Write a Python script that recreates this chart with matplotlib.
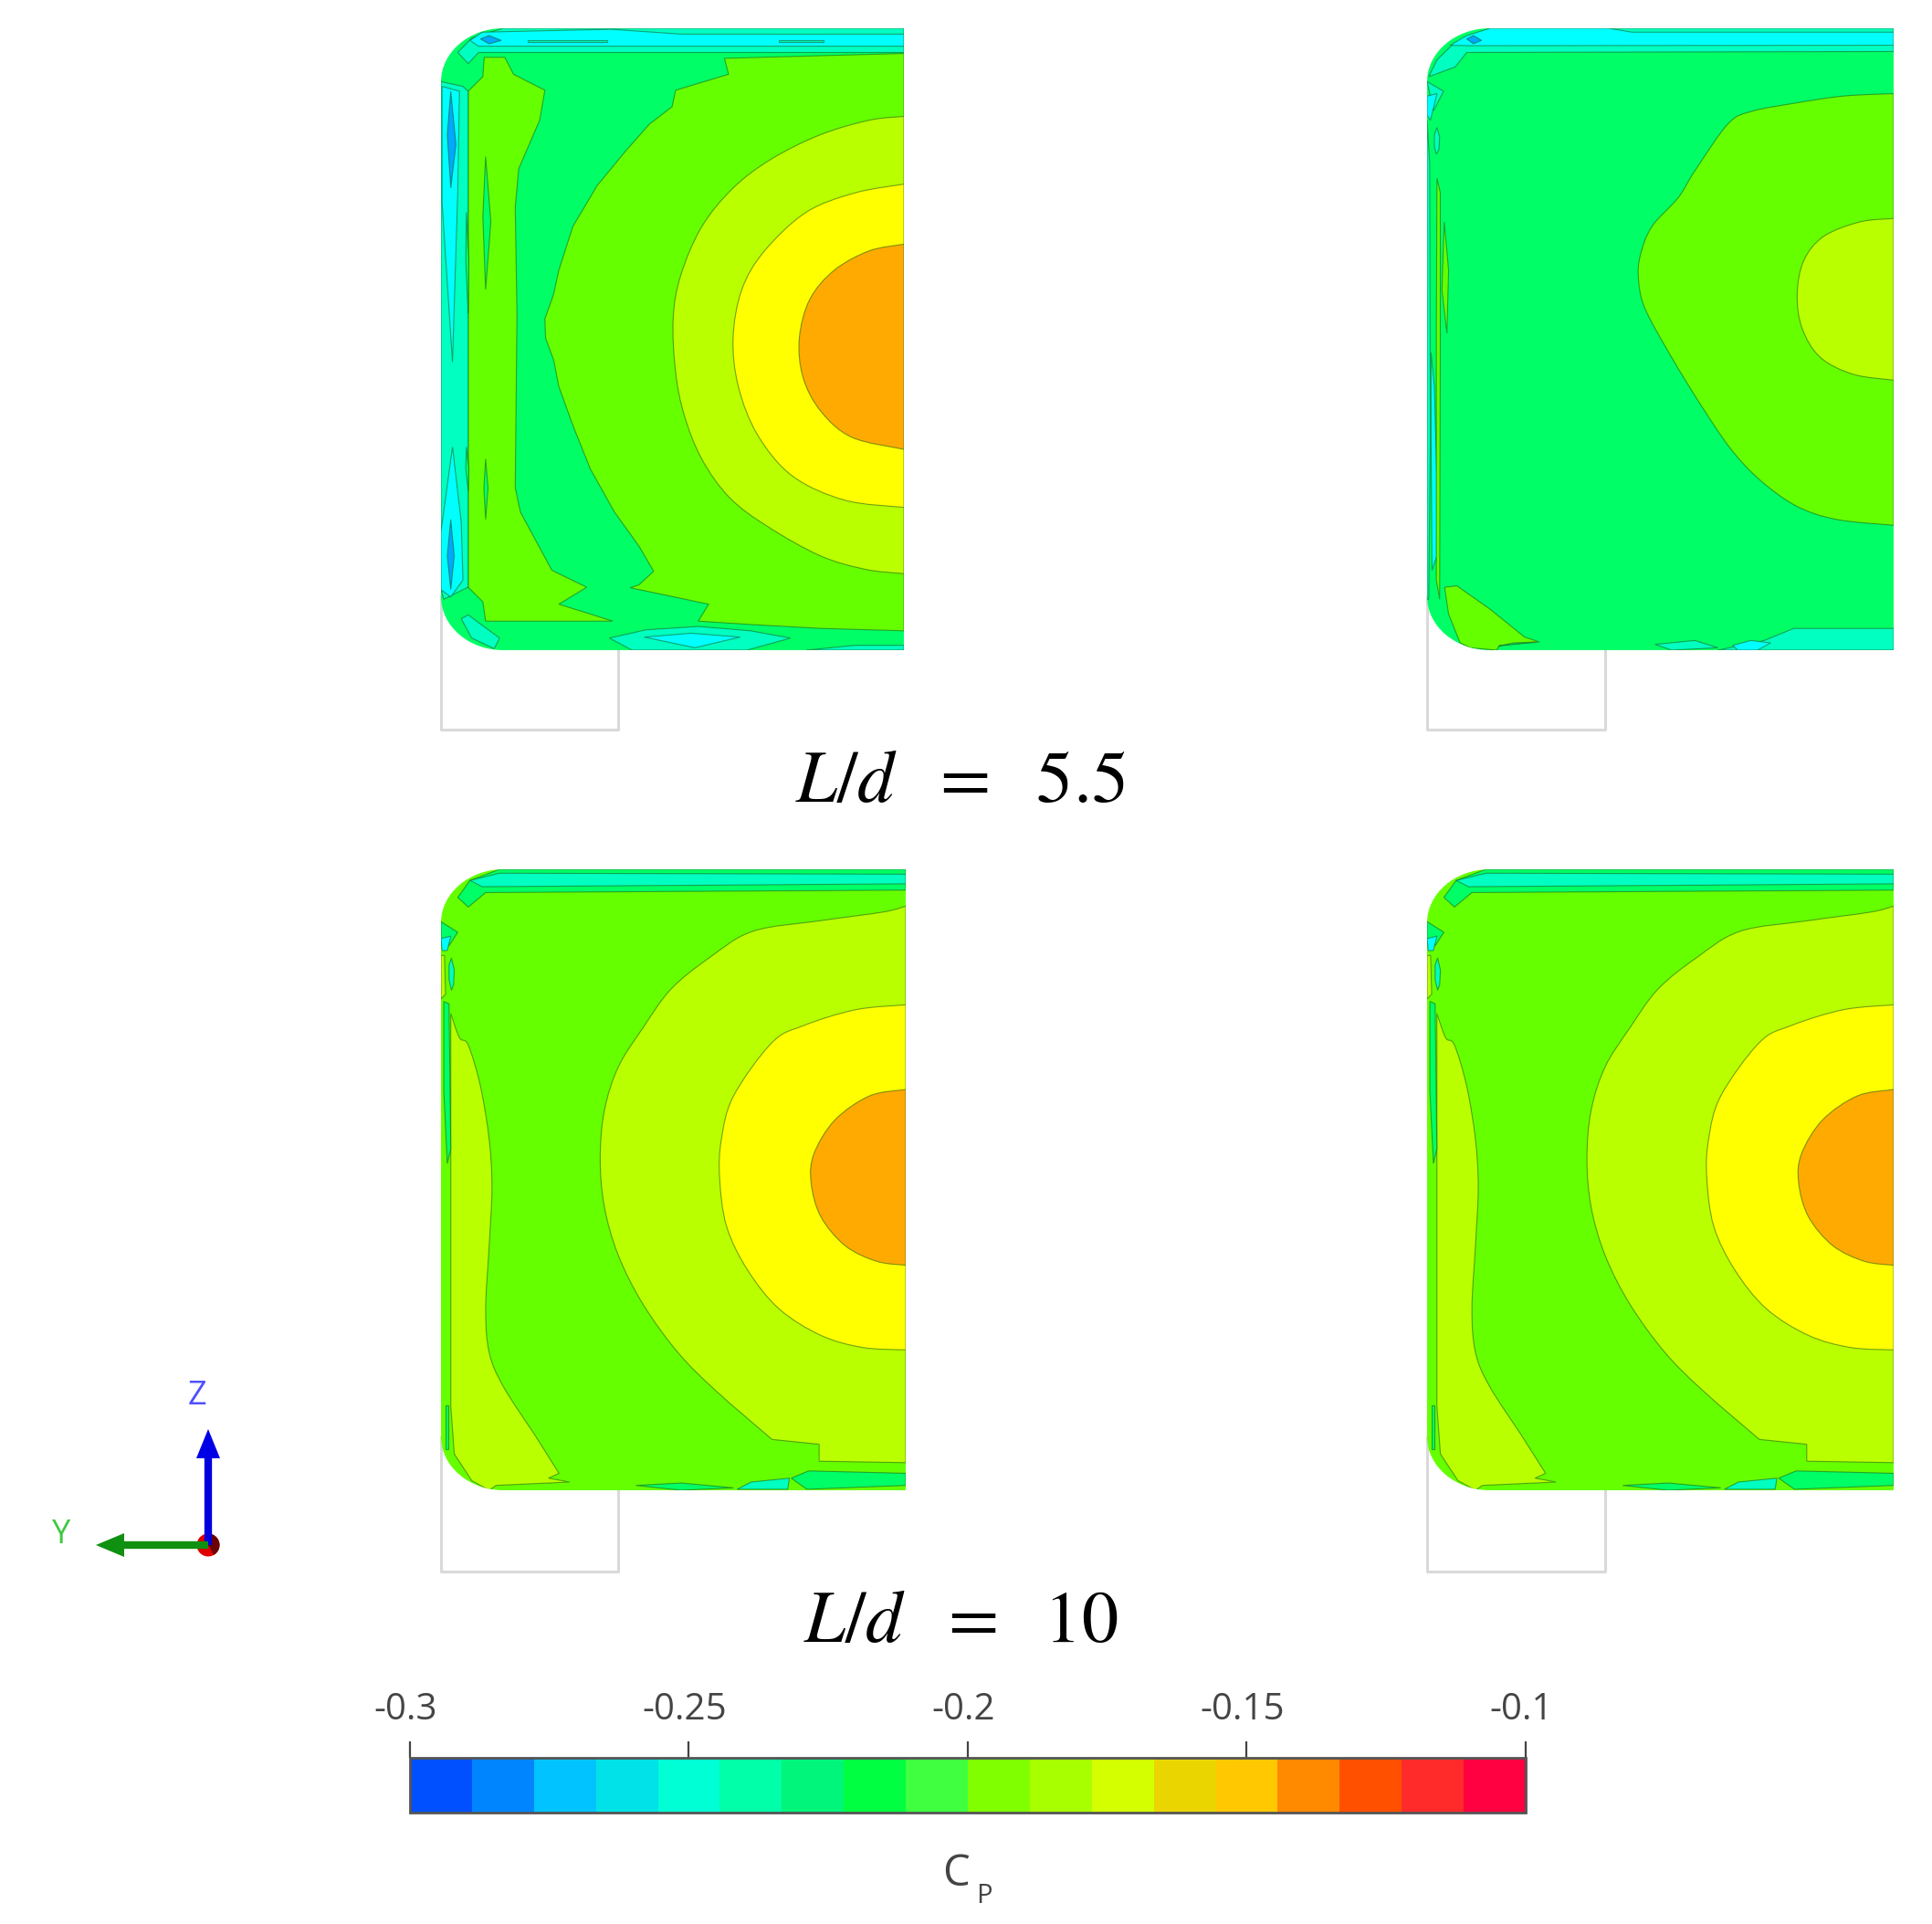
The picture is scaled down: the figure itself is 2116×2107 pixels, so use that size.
#!/usr/bin/env python3
# -*- coding: utf-8 -*-
# Cp contour panels on the base slice, L/d = 5.5 and L/d = 10
import numpy as np
import matplotlib
matplotlib.use("Agg")
from matplotlib import pyplot as plt
from matplotlib.colors import ListedColormap, BoundaryNorm
from matplotlib.colorbar import Colorbar
from matplotlib.patches import PathPatch, Polygon, Circle, Wedge
from matplotlib.path import Path
from matplotlib.transforms import ScaledTranslation

W, H = 2116, 2107

# %% colorbar data
cp_ticks = [-0.3, -0.25, -0.2, -0.15, -0.1]
cp_tick_labels = ["-0.3", "-0.25", "-0.2", "-0.15", "-0.1"]
cp_colors = ["#0050ff", "#0085ff", "#00c3ff", "#00e1e8", "#00ffd5", "#00ffa8",
             "#00f57a", "#00ff40", "#40ff40", "#80ff00", "#a8ff00", "#d4ff00",
             "#ebd500", "#ffc800", "#ff8a00", "#ff5000", "#ff2a2a", "#ff0040"]

# contour band colours as they show up in the panels
spring = "#00ff66"
lime = "#66ff00"
ygreen = "#b9ff00"
yellow = "#ffff00"
orange = "#ffaa00"
cyan = "#00ffff"
teal = "#00ffc0"
blue = "#00a8ff"

# %% panel 1 (L/d = 5.5, left) contour outlines
p1_lime_main = [(1440,112),(925,122),(937,155),(785,188),(775,222),(710,258),(640,315),(560,385),(490,470),(450,560),(435,610),(410,660),(412,700),(435,745),(450,800),(490,880),(540,970),(610,1060),(680,1130),(722,1182),(680,1210),(655,1216),(880,1250),(850,1285),(1000,1292),(1200,1300),(1440,1305)]
p1_lime_left = [(190,190),(232,160),(236,120),(295,120),(320,155),(410,188),(395,250),(365,300),(335,350),(325,430),(330,650),(325,1010),(340,1060),(385,1120),(430,1180),(530,1215),(450,1250),(605,1285),(240,1285),(232,1245),(190,1215)]
p1_ygreen = [(1440,242),(1340,250),(1200,280),(1060,330),(950,390),(860,470),(800,570),(778,660),(785,770),(810,860),(860,950),(940,1030),(1050,1090),(1200,1150),(1330,1178),(1440,1187)]
p1_yellow = [(1440,382),(1300,400),(1160,440),(1040,520),(975,600),(950,700),(965,800),(1020,900),(1120,985),(1270,1035),(1440,1050)]
p1_orange = [(1440,506),(1340,520),(1240,560),(1170,620),(1140,700),(1150,780),(1200,850),(1290,905),(1440,930)]
p1_top_teal = [(160,110),(200,80),(290,60),(1440,60),(1440,110),(220,110),(190,133)]
p1_top_cyan = [(195,85),(230,68),(600,62),(800,72),(1440,72),(1440,97),(220,97)]
p1_top_spot = [(225,82),(250,75),(285,85),(250,92)]
p1_top_line1 = [(360,84),(590,84),(590,88),(360,88)]
p1_top_line2 = [(1080,84),(1210,84),(1210,88),(1080,88)]
p1_left_teal = [(112,170),(175,180),(190,190),(190,1215),(175,1220),(120,1240),(112,1220)]
p1_left_cyan1 = [(115,180),(165,190),(160,400),(145,750),(115,420)]
p1_left_cyan2 = [(145,925),(170,1080),(175,1200),(140,1235),(112,1220),(112,1100)]
p1_left_blue1 = [(140,190),(155,300),(140,390),(130,280)]
p1_left_blue2 = [(140,1075),(150,1150),(140,1220),(130,1150)]
p1_bl_teal = [(170,1280),(190,1272),(280,1320),(265,1342),(200,1320)]
p1_bot_teal = [(595,1320),(700,1303),(850,1296),(1000,1305),(1115,1320),(990,1345),(660,1345)]
p1_bot_cyan = [(695,1318),(830,1310),(970,1318),(840,1340)]
p1_bot_right = [(1160,1345),(1300,1335),(1440,1335),(1440,1345)]
p1_spot1 = [(240,325),(255,460),(240,600),(232,450)]
p1_spot2 = [(240,950),(247,1010),(240,1075),(235,1010)]
p1_spot3 = [(185,440),(192,540),(190,650),(183,540)]
p1_spot4 = [(185,925),(192,970),(190,1015),(183,970)]

# layer = colour, outline, how many leading vertices are joined by a smooth curve
p1_layers = [(lime, p1_lime_main, 0), (lime, p1_lime_left, 0), (ygreen, p1_ygreen, 16),
             (yellow, p1_yellow, 11), (orange, p1_orange, 9), (teal, p1_top_teal, 0),
             (cyan, p1_top_cyan, 0), (blue, p1_top_spot, 0), (teal, p1_top_line1, 0),
             (teal, p1_top_line2, 0), (teal, p1_left_teal, 0), (cyan, p1_left_cyan1, 0),
             (cyan, p1_left_cyan2, 0), (blue, p1_left_blue1, 0), (blue, p1_left_blue2, 0),
             (teal, p1_bl_teal, 0), (teal, p1_bot_teal, 0), (cyan, p1_bot_cyan, 0),
             (teal, p1_bot_right, 0), (spring, p1_spot1, 0), (spring, p1_spot2, 0),
             (spring, p1_spot3, 0), (spring, p1_spot4, 0)]

# %% panel 2 (L/d = 5.5, right)
p2_lime = [(1452,195),(1300,200),(1150,215),(1020,232),(950,258),(850,355),(800,410),(720,470),(685,530),(680,580),(700,640),(780,740),(870,840),(960,930),(1050,995),(1160,1048),(1280,1075),(1452,1087)]
p2_ygreen = [(1452,453),(1350,460),(1240,490),(1180,540),(1160,610),(1175,680),(1230,740),(1330,775),(1452,787)]
p2_top_teal = [(45,160),(70,125),(115,95),(230,60),(1452,60),(1452,108),(160,110),(125,140)]
p2_top_cyan = [(110,95),(160,75),(230,60),(590,60),(660,68),(1452,68),(1452,95),(170,96)]
p2_top_spot = [(160,82),(180,75),(205,85),(180,92)]
p2_left_teal = [(40,170),(90,190),(60,230)]
p2_left_cyan = [(40,200),(70,195),(50,250),(40,240)]
p2_oval = [(62,280),(70,265),(78,285),(76,310),(68,320),(62,305)]
p2_edge = [(40,250),(48,340),(50,900),(45,1240),(40,1240)]
p2_strip_cyan = [(52,730),(62,800),(70,1000),(70,1150),(55,1180),(52,900)]
p2_strip_lime = [(70,370),(80,400),(80,700),(78,1240),(68,1200),(68,700)]
p2_spot = [(92,460),(105,560),(100,690),(85,600)]
p2_bl_lime = [(93,1215),(130,1212),(230,1260),(335,1318),(380,1328),(260,1335),(250,1345),(170,1340),(140,1330),(105,1270)]
p2_bl_sliver = [(255,1337),(300,1330),(370,1328),(300,1333)]
p2_bot_teal = [(1452,1300),(1150,1300),(1060,1325),(920,1345),(1452,1345)]
p2_bot_cyan = [(965,1335),(1020,1325),(1080,1330),(1040,1345),(980,1345)]
p2_bot_spot = [(730,1333),(850,1325),(920,1340),(780,1345)]

p2_layers = [(lime, p2_lime, 18), (ygreen, p2_ygreen, 9), (teal, p2_top_teal, 0),
             (cyan, p2_top_cyan, 0), (blue, p2_top_spot, 0), (teal, p2_left_teal, 0),
             (cyan, p2_left_cyan, 0), (teal, p2_oval, 0), (teal, p2_edge, 0),
             (cyan, p2_strip_cyan, 0), (lime, p2_strip_lime, 0), (lime, p2_spot, 0),
             (lime, p2_bl_lime, 0), (spring, p2_bl_sliver, 0), (teal, p2_bot_teal, 0),
             (cyan, p2_bot_cyan, 0), (teal, p2_bot_spot, 0)]

# %% panel 3 (L/d = 10), panel 4 has the same bands
p3_ygreen = [(1443,118),(1380,130),(1200,148),(1005,170),(880,225),(770,290),(690,370),(620,450),(580,540),(568,640),(580,740),(620,840),(690,940),(790,1040),(900,1120),(1060,1220),(1195,1230),(1195,1265),(1443,1268)]
p3_yellow = [(1443,322),(1300,332),(1150,365),(1060,400),(950,510),(915,600),(910,680),(930,780),(990,870),(1080,950),(1200,1005),(1320,1030),(1443,1035)]
p3_orange = [(1443,497),(1340,510),(1240,560),(1180,630),(1172,690),(1200,760),(1270,820),(1360,852),(1443,860)]
p3_left_ygreen = [(140,340),(165,390),(190,405),(225,490),(250,600),(258,700),(250,820),(240,950),(250,1040),(290,1110),(380,1210),(450,1290),(420,1300),(480,1308),(270,1315),(250,1325),(200,1305),(150,1250),(140,1150)]
p3_top_spring = [(160,100),(195,65),(280,42),(1443,42),(1443,85),(240,90),(190,120)]
p3_top_teal = [(195,65),(280,50),(1443,52),(1443,72),(230,78)]
p3_left_spring = [(120,315),(135,320),(140,620),(130,650),(120,500)]
p3_left_cyan = [(112,185),(140,180),(130,210),(115,210)]
p3_left_spring2 = [(112,150),(160,172),(135,200),(112,200)]
p3_oval = [(135,240),(142,225),(150,250),(148,280),(142,292),(135,270)]
p3_sliver = [(112,220),(122,220),(125,300),(112,310)]
p3_bot_spring = [(1443,1290),(1165,1285),(1115,1300),(1160,1323),(1443,1315)]
p3_bot_teal = [(960,1323),(1000,1308),(1110,1300),(1105,1323)]
p3_bot_spot = [(670,1315),(800,1310),(950,1320),(800,1325)]
p3_strip = [(125,1150),(132,1150),(132,1240),(125,1240)]

p3_layers = [(ygreen, p3_ygreen, 16), (yellow, p3_yellow, 13), (orange, p3_orange, 9),
             (ygreen, p3_left_ygreen, 11), (spring, p3_top_spring, 0), (teal, p3_top_teal, 0),
             (spring, p3_left_spring, 0), (spring, p3_left_spring2, 0), (cyan, p3_left_cyan, 0),
             (teal, p3_oval, 0), (ygreen, p3_sliver, 0), (spring, p3_bot_spring, 0),
             (teal, p3_bot_teal, 0), (spring, p3_bot_spot, 0), (spring, p3_strip, 0)]

# %% layout in picture pixels
fig = plt.figure(figsize=(W / 100, H / 100), dpi=100, facecolor="white")


def axes_px(x0, y0, x1, y1):
    return fig.add_axes([x0 / W, 1 - y1 / H, (x1 - x0) / W, (y1 - y0) / H])


def outline_path(pts, n_smooth):
    # Bezier through the read vertices for the contours that are smooth in the picture
    pts = np.array(pts, dtype=float)
    verts = [pts[0]]
    codes = [Path.MOVETO]
    for i in range(max(n_smooth - 1, 0)):
        p0, p1 = pts[max(i - 1, 0)], pts[i]
        p2, p3 = pts[i + 1], pts[min(i + 2, n_smooth - 1)]
        verts += [p1 + (p2 - p0) / 6, p2 - (p3 - p1) / 6, p2]
        codes += [Path.CURVE4] * 3
    for p in pts[max(n_smooth, 1):]:
        verts.append(p)
        codes.append(Path.LINETO)
    verts.append(pts[0])
    codes.append(Path.CLOSEPOLY)
    return Path(verts, codes)


def draw_panel(box, xlim, ylim, base, layers, base_right, base_bottom):
    ax = axes_px(*box)
    ax.set_xlim(*xlim)
    ax.set_ylim(ylim[1], ylim[0])
    ax.axis("off")
    x0, x1 = xlim
    y0, y1 = ylim
    rx, ry = 0.134 * (x1 - x0), 0.086 * (y1 - y0)
    k = 0.45
    verts = [(x1, y0), (x0 + rx, y0), (x0 + k * rx, y0), (x0, y0 + k * ry), (x0, y0 + ry),
             (x0, y1 - ry), (x0, y1 - k * ry), (x0 + k * rx, y1), (x0 + rx, y1), (x1, y1), (x1, y0)]
    codes = [Path.MOVETO, Path.LINETO, Path.CURVE4, Path.CURVE4, Path.CURVE4,
             Path.LINETO, Path.CURVE4, Path.CURVE4, Path.CURVE4, Path.LINETO, Path.CLOSEPOLY]
    shape = PathPatch(Path(verts, codes), fc=base, ec="none", zorder=1)
    ax.add_patch(shape)
    for color, pts, n_smooth in layers:
        poly = PathPatch(outline_path(pts, n_smooth), fc=color, ec=(0.1, 0.35, 0.1, 0.55), lw=0.8, zorder=2)
        ax.add_patch(poly)
        poly.set_clip_path(shape)
    # grey outline of the base underneath
    ax.plot([x0, x0, base_right, base_right], [y1 - ry, base_bottom, base_bottom, y1],
            color="#d9d9d9", lw=2.2, clip_on=False, zorder=0)
    return ax


draw_panel((483, 31, 990, 712), (112, 1440), (60, 1345), spring, p1_layers, 620, 1510)
draw_panel((1563, 31, 2074, 712), (40, 1452), (60, 1345), spring, p2_layers, 580, 1510)
draw_panel((483, 952, 992, 1632), (112, 1443), (42, 1325), lime, p3_layers, 620, 1492)
draw_panel((1563, 952, 2074, 1632), (112, 1443), (42, 1325), lime, p3_layers, 620, 1492)

# %% overlay in pixels: titles and axis triad
ov = fig.add_axes([0, 0, 1, 1], facecolor="none")
ov.set_xlim(0, W)
ov.set_ylim(H, 0)
ov.axis("off")
plt.rcParams["mathtext.fontset"] = "stix"
ov.text(1052, 856, r"$L/d\ \ =\ \ 5.5$", fontsize=58, ha="center", va="center", color="black")
ov.text(1052, 1776, r"$L/d\ \ =\ \ 10$", fontsize=58, ha="center", va="center", color="black")

origin_x, origin_y = 228, 1692
ov.plot([origin_x, origin_x], [origin_y, 1595], color="#0000dd", lw=6, solid_capstyle="butt")
ov.add_patch(Polygon([(origin_x, 1565), (origin_x + 13, 1597), (origin_x - 13, 1597)], fc="#0000e6", ec="none"))
ov.plot([origin_x, 135], [origin_y, origin_y], color="#109010", lw=6, solid_capstyle="butt")
ov.add_patch(Polygon([(105, origin_y), (136, origin_y - 13), (136, origin_y + 13)], fc="#109010", ec="none"))
ov.add_patch(Circle((origin_x, origin_y), 12.5, fc="#e00000", ec="none"))
ov.add_patch(Wedge((origin_x, origin_y), 12.5, -70, 60, fc="#6a0000", ec="none"))
ov.text(216, 1529, "Z", fontsize=26, family="Open Sans", color="#5050ff", ha="center", va="center")
ov.text(67, 1681, "Y", fontsize=26, family="Open Sans", color="#40c840", ha="center", va="center")

# %% colorbar
cax = axes_px(449, 1925, 1671, 1985)
norm = BoundaryNorm(np.linspace(cp_ticks[0], cp_ticks[-1], len(cp_colors) + 1), len(cp_colors))
cb = Colorbar(cax, cmap=ListedColormap(cp_colors), norm=norm, orientation="horizontal",
              ticks=cp_ticks, ticklocation="top", spacing="proportional", drawedges=False)
cb.ax.set_xticklabels(cp_tick_labels, family="Open Sans", fontsize=29, color="#444444")
cb.ax.tick_params(axis="x", which="major", length=13, width=1.6, color="#444444", pad=10)
cb.ax.minorticks_off()
cb.outline.set_edgecolor("#555555")
cb.outline.set_linewidth(2)
for lab in cb.ax.get_xticklabels():
    # labels sit a little left of their ticks
    lab.set_transform(lab.get_transform() + ScaledTranslation(-5 / 100, 0, fig.dpi_scale_trans))

ov.text(1047, 2052, "C", fontsize=34, family="Open Sans", color="#444444", ha="center", va="center")
ov.text(1078, 2076, "P", fontsize=21, family="Open Sans", color="#444444", ha="center", va="center")

fig.savefig("out.png", dpi=100)
